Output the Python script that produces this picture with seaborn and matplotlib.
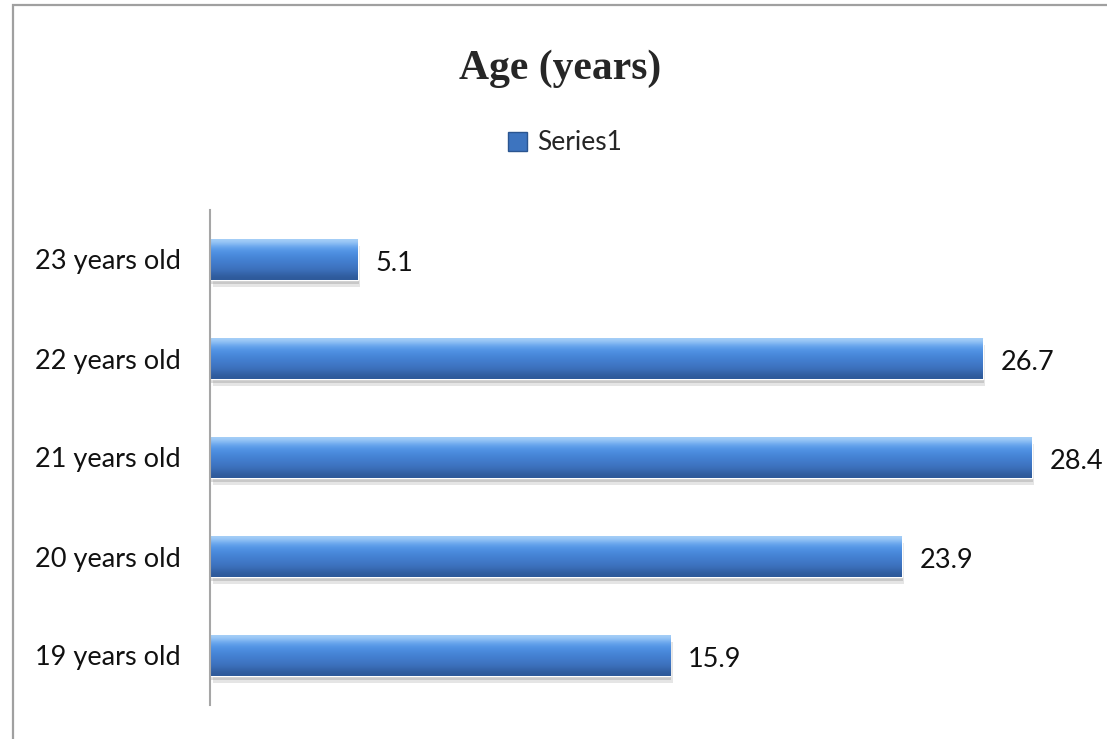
import numpy as np
import pandas as pd
import matplotlib.pyplot as plt
import matplotlib.patheffects as pe
from matplotlib.patches import Patch, Rectangle
import seaborn as sns

sns.set_style("white")
plt.rcParams['font.family'] = ['Lato', 'DejaVu Sans']

ages = ['23 years old', '22 years old', '21 years old', '20 years old', '19 years old']
values = [5.1, 26.7, 28.4, 23.9, 15.9]
df = pd.DataFrame({'age': ages, 'value': values})

fig = plt.figure(figsize=(11.07, 7.39), dpi=100)
ax = fig.add_axes([210/1107, 34/739, 868/1107, 495/739])

sns.barplot(x='value', y='age', data=df, order=ages, orient='h', width=0.42,
            color='#2f62a8', ax=ax)

# gradient fill clipped to each bar + soft shadow
grad = np.array([[0.66, 0.82, 0.97], [0.38, 0.63, 0.93], [0.30, 0.56, 0.88],
                 [0.27, 0.51, 0.83], [0.25, 0.47, 0.78], [0.23, 0.43, 0.72],
                 [0.18, 0.35, 0.60]])
grad = grad.reshape(-1, 1, 3)
for bar in ax.patches:
    bar.set_path_effects([pe.SimplePatchShadow(offset=(2, -5), shadow_rgbFace='#999999', alpha=0.25),
                          pe.SimplePatchShadow(offset=(1, -3), shadow_rgbFace='#888888', alpha=0.3),
                          pe.Normal()])
    x0, y0 = bar.get_x(), bar.get_y()
    w, h = bar.get_width(), bar.get_height()
    im = ax.imshow(grad, extent=(x0, x0 + w, y0 + h, y0), aspect='auto',
                   interpolation='bicubic', zorder=bar.get_zorder() + 0.1)
    im.set_clip_path(bar)
    ax.annotate(f'{w:.1f}', (x0 + w, y0 + h / 2), xytext=(13, -3), textcoords='offset points',
                ha='left', va='center', fontsize=19.5, color='#111111', annotation_clip=False)

ax.set_xlim(0, 30)
ax.set_ylim(4.5, -0.5)
ax.set_xlabel('')
ax.set_ylabel('')
ax.set_xticks([])
ax.tick_params(axis='y', length=0, pad=21, labelsize=19.5, labelcolor='#111111')
for s in ['top', 'right', 'bottom']:
    ax.spines[s].set_visible(False)
ax.spines['left'].set_color('#a6a6a6')
ax.spines['left'].set_linewidth(1.5)

fig.text(560/1107, 1 - 69/739, 'Age (years)', ha='center', va='center', fontsize=30,
         fontweight='bold', family='Liberation Serif')

fig.legend(handles=[Patch(facecolor='#3d74bf', edgecolor='#2a5590')], labels=['Series1'],
           loc='center', bbox_to_anchor=(565/1107, 1 - 143/739), frameon=False,
           fontsize=19, handlelength=0.7, handleheight=0.7, handletextpad=0.4)

# outer chart frame
fig.add_artist(Rectangle((13/1107, -0.05), 1.2, 1 - 5/739 + 0.05, transform=fig.transFigure,
                         fill=False, edgecolor='#a0a0a0', linewidth=1.6))

fig.savefig('out.png', dpi=100)
